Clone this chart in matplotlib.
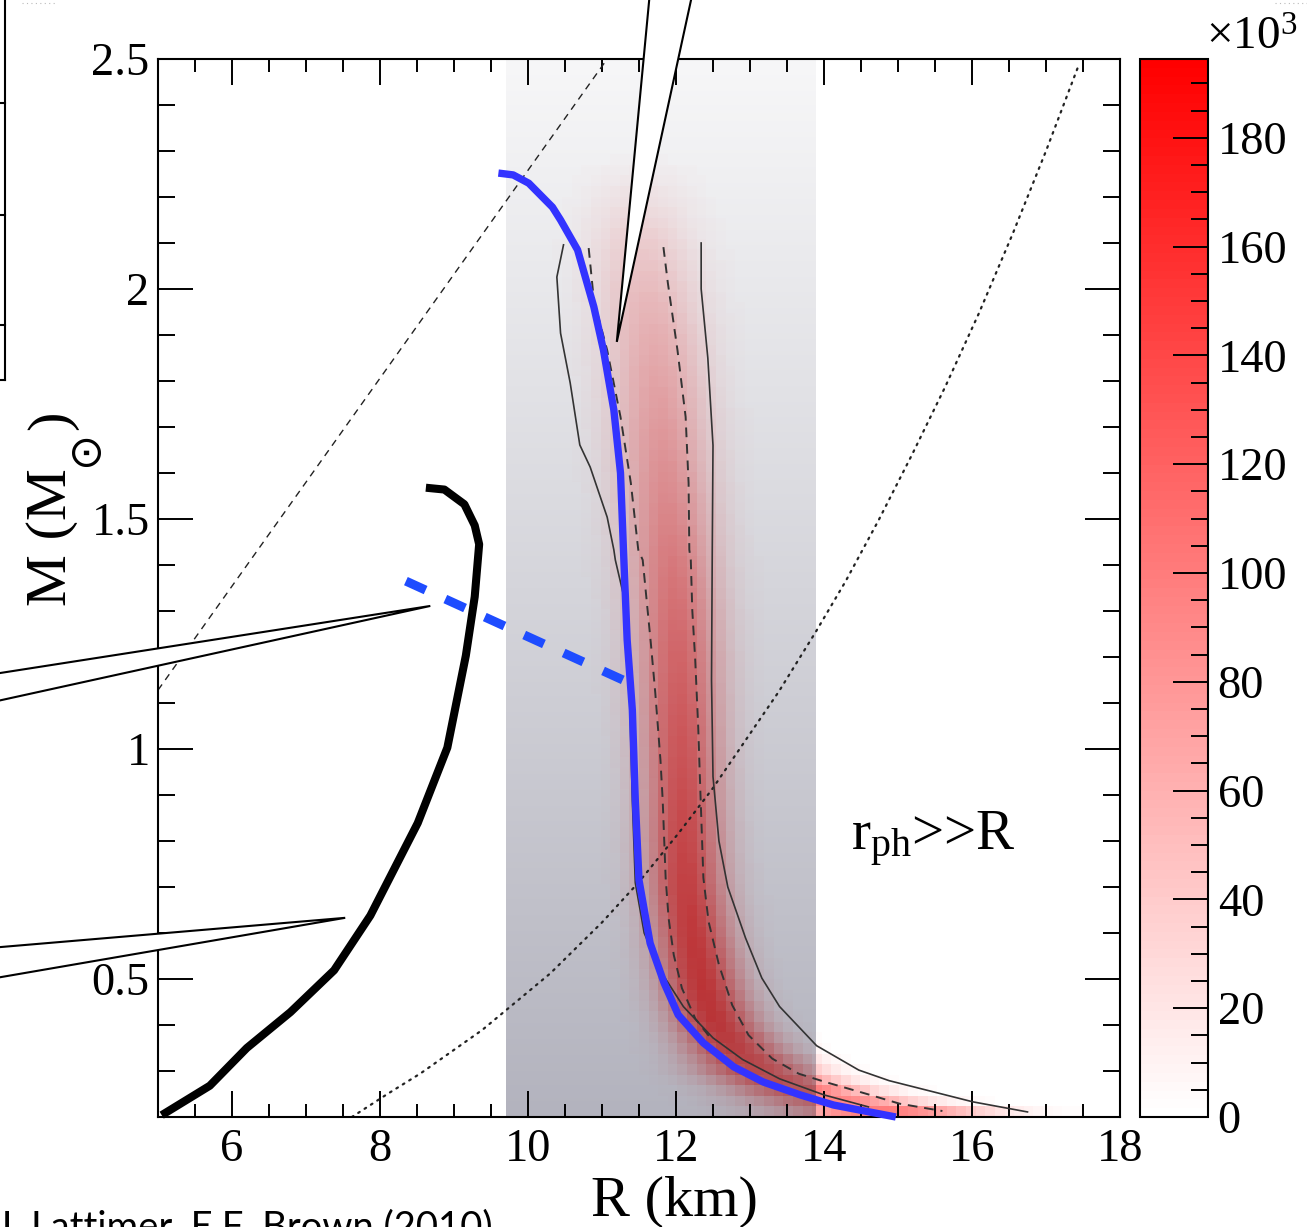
import numpy as np
import matplotlib
matplotlib.use('Agg')
import matplotlib.pyplot as plt
from matplotlib.colors import LinearSegmentedColormap, Normalize, to_rgb
from matplotlib.cm import ScalarMappable
from matplotlib.ticker import MultipleLocator, FuncFormatter
from matplotlib.patches import Polygon
from matplotlib.lines import Line2D

plt.rcParams['font.family'] = ['Liberation Serif', 'DejaVu Serif']
plt.rcParams['mathtext.fontset'] = 'custom'
plt.rcParams['mathtext.rm'] = 'Liberation Serif'
plt.rcParams['mathtext.it'] = 'Liberation Serif:italic'
plt.rcParams['mathtext.bf'] = 'Liberation Serif:bold'

# ---------------- data ----------------
# thick blue M-R curve
blue_R = [9.60, 9.80, 10.01, 10.33, 10.44, 10.67, 10.89, 11.02, 11.16, 11.25, 11.29, 11.34,
          11.41, 11.45, 11.50, 11.65, 11.84, 12.03, 12.37, 12.78, 13.18, 13.68, 14.13, 14.97]
blue_M = [2.252, 2.248, 2.230, 2.178, 2.150, 2.085, 1.961, 1.867, 1.737, 1.600, 1.433, 1.237,
          1.085, 0.889, 0.715, 0.578, 0.491, 0.422, 0.361, 0.309, 0.276, 0.248, 0.226, 0.200]
# thick black M-R curve
black_R = [5.05, 5.70, 6.20, 6.79, 7.38, 7.87, 8.51, 8.91, 9.16, 9.28, 9.34, 9.28, 9.14, 8.87, 8.62]
black_M = [0.204, 0.268, 0.350, 0.428, 0.519, 0.638, 0.839, 1.003, 1.203, 1.331, 1.445, 1.486,
           1.532, 1.564, 1.568]
# thick blue dashed segment
bdash_R = [8.35, 11.42]
bdash_M = [1.365, 1.140]
# outer (solid) contour, left and right branches
outerL_R = [10.48, 10.39, 10.44, 10.57, 10.70, 10.84, 11.07, 11.16, 11.18, 11.29, 11.36, 11.39,
            11.41, 11.45, 11.57, 11.80, 12.10, 12.50, 12.90, 13.40, 14.00, 14.60]
outerL_M = [2.096, 2.026, 1.904, 1.796, 1.661, 1.613, 1.504, 1.433, 1.411, 1.335, 1.215, 1.013,
            0.889, 0.709, 0.600, 0.515, 0.440, 0.372, 0.325, 0.283, 0.248, 0.222]
outerR_R = [12.34, 12.34, 12.43, 12.50, 12.49, 12.48, 12.50, 12.58, 12.70, 12.94, 13.16, 13.40,
            13.90, 14.47, 14.88, 15.47, 16.01, 16.75]
outerR_M = [2.100, 2.000, 1.850, 1.660, 1.430, 1.150, 0.940, 0.800, 0.700, 0.589, 0.502, 0.440,
            0.355, 0.302, 0.279, 0.255, 0.233, 0.211]
# inner (dashed) contour, left and right branches
innerL_R = [10.82, 10.89, 11.07, 11.25, 11.39, 11.49, 11.55, 11.66, 11.72, 11.79, 11.82, 11.86,
            11.90, 11.97, 12.08, 12.26, 12.45]
innerL_M = [2.089, 1.976, 1.867, 1.722, 1.578, 1.433, 1.411, 1.230, 1.122, 0.976, 0.889, 0.720,
            0.632, 0.552, 0.480, 0.414, 0.375]
innerR_R = [11.83, 11.89, 12.02, 12.13, 12.17, 12.18, 12.20, 12.22, 12.26, 12.30, 12.33, 12.37,
            12.44, 12.58, 12.76, 12.98, 13.30, 13.66, 14.02, 14.56, 15.02, 15.60]
innerR_M = [2.091, 2.013, 1.867, 1.722, 1.578, 1.433, 1.411, 1.302, 1.193, 1.048, 0.904, 0.720,
            0.625, 0.531, 0.443, 0.378, 0.327, 0.294, 0.276, 0.251, 0.229, 0.213]
# straight dashed limit line
glim_R = [5.0, 11.07]
glim_M = [1.128, 2.500]
# dotted limit curve
dot_R = [7.62, 8.10, 8.55, 9.38, 10.30, 11.00, 11.50, 12.04, 12.49, 13.39, 13.89, 14.29, 14.74,
         15.19, 15.64, 16.09, 16.55, 17.00, 17.45]
dot_M = [0.200, 0.250, 0.295, 0.389, 0.512, 0.623, 0.711, 0.818, 0.913, 1.125, 1.255, 1.364,
         1.498, 1.640, 1.788, 1.946, 2.120, 2.300, 2.490]
# probability density: per-mass-row ridge centre (km), width (km), peak (x10^3)
heat_M = [0.21, 0.23, 0.25, 0.27, 0.30, 0.35, 0.40, 0.45, 0.50, 0.60, 0.70, 0.80, 0.90, 1.00,
          1.10, 1.20, 1.30, 1.40, 1.50, 1.60, 1.70, 1.80, 1.90, 2.00, 2.10, 2.20, 2.30]
heat_centre = [14.8, 14.2, 13.8, 13.45, 13.1, 12.78, 12.55, 12.42, 12.33, 12.22, 12.14, 12.11,
               12.09, 12.07, 12.05, 12.03, 12.0, 11.95, 11.9, 11.85, 11.8, 11.75, 11.7, 11.62,
               11.55, 11.5, 11.5]
heat_width = [0.95, 0.8, 0.68, 0.6, 0.55, 0.46, 0.41, 0.39, 0.38, 0.37, 0.37, 0.37, 0.37, 0.38,
              0.39, 0.40, 0.41, 0.42, 0.43, 0.44, 0.45, 0.46, 0.47, 0.48, 0.49, 0.50, 0.50]
heat_peak = [100, 92, 100, 108, 116, 128, 137, 140, 140, 136, 131, 125, 119, 113, 107, 101, 93,
             85, 76, 68, 61, 54, 47, 38, 27, 12, 0]
# shaded radius band
band_R = [9.69, 13.89]
band_top_color = '#f7f7f8'
band_bottom_color = '#b3b3be'
# annotation wedges (tip first)
wedge1 = [(11.20, 1.885), (11.68, 2.70), (12.30, 2.70)]
wedge2 = [(8.68, 1.311), (2.62, 1.159), (2.62, 1.097)]
wedge3 = [(7.53, 0.633), (2.62, 0.566), (2.62, 0.497)]

cbar_max = 194500
xticks = [6, 8, 10, 12, 14, 16, 18]
yticks = [0.5, 1.0, 1.5, 2.0, 2.5]
cticks = [0, 20000, 40000, 60000, 80000, 100000, 120000, 140000, 160000, 180000]

# ---------------- figure ----------------
W, H = 1307, 1227
fig = plt.figure(figsize=(W / 100, H / 100), dpi=100)
ax = fig.add_axes([158 / W, 1 - 1117 / H, 962 / W, 1058 / H])
xmin, xmax, ymin, ymax = 5.0, 18.0, 0.2, 2.5

cmap = LinearSegmentedColormap.from_list('wr', ['#ffffff', '#ff0000'], N=120)
norm = Normalize(0, cbar_max)

# density grid (100 x 100 cells)
nb = 100
R_edges = np.linspace(xmin, xmax, nb + 1)
M_edges = np.linspace(ymin, ymax, nb + 1)
Rc = 0.5 * (R_edges[:-1] + R_edges[1:])
Mc = 0.5 * (M_edges[:-1] + M_edges[1:])
cen = np.interp(Mc, heat_M, heat_centre)
wid = np.interp(Mc, heat_M, heat_width)
pk = np.interp(Mc, heat_M, heat_peak, right=0) * 1000
dens = pk[:, None] * np.exp(-0.5 * ((Rc[None, :] - cen[:, None]) / wid[:, None]) ** 2)

# composite image: band gradient multiplied by density colour
sub = 8
fine = np.repeat(np.repeat(dens, sub, axis=0), sub, axis=1)
nR = fine.shape[1]
nM = fine.shape[0]
Rf = xmin + (np.arange(nR) + 0.5) * (xmax - xmin) / nR
Mf = ymin + (np.arange(nM) + 0.5) * (ymax - ymin) / nM
top = np.array(to_rgb(band_top_color))
bot = np.array(to_rgb(band_bottom_color))
t = ((ymax - Mf) / (ymax - ymin))[:, None, None]
bandcol = top[None, None, :] * (1 - t) + bot[None, None, :] * t
inband = ((Rf >= band_R[0]) & (Rf <= band_R[1]))[None, :, None]
bg = np.where(inband, bandcol, 1.0)
rgb = cmap(norm(fine))[..., :3] * bg
ax.imshow(rgb, extent=[xmin, xmax, ymin, ymax], origin='lower', aspect='auto',
          interpolation='nearest', zorder=0)

# lines
ax.plot(glim_R, glim_M, color='#222222', lw=1.0, ls=(0, (5, 4)), zorder=2)
ax.plot(dot_R, dot_M, color='#222222', lw=1.6, ls=(0, (0.8, 2.6)), dash_capstyle='round', zorder=2)
ax.plot(outerL_R, outerL_M, color='#333333', lw=1.2, zorder=2)
ax.plot(outerR_R, outerR_M, color='#333333', lw=1.2, zorder=2)
ax.plot(innerL_R, innerL_M, color='#333333', lw=1.4, ls=(0, (5, 3.5)), zorder=2)
ax.plot(innerR_R, innerR_M, color='#333333', lw=1.4, ls=(0, (5, 3.5)), zorder=2)
ax.plot(black_R, black_M, color='black', lw=5.8, solid_capstyle='butt', solid_joinstyle='round',
        zorder=3, clip_on=False)
ax.plot(blue_R, blue_M, color='#3333ff', lw=5.3, solid_capstyle='butt', solid_joinstyle='round',
        zorder=3, clip_on=False)
ax.plot(bdash_R, bdash_M, color='#1e4cff', lw=6.5, ls=(0, (2.4, 2.4)), dash_capstyle='butt', zorder=3)

for w in (wedge1, wedge2, wedge3):
    ax.add_patch(Polygon(w, closed=True, facecolor='white', edgecolor='black', lw=1.5,
                         joinstyle='miter', zorder=4, clip_on=False))

ax.text(14.36, 0.78, r'r$_{\mathrm{ph}}$>>R', fontsize=41, ha='left', va='baseline', zorder=5)

ax.set_xlim(xmin, xmax)
ax.set_ylim(ymin, ymax)
ax.set_xticks(xticks)
ax.set_yticks(yticks)
ax.xaxis.set_minor_locator(MultipleLocator(0.5))
ax.yaxis.set_minor_locator(MultipleLocator(0.1))
ax.xaxis.set_major_formatter(FuncFormatter(lambda v, p: '%g' % v))
ax.yaxis.set_major_formatter(FuncFormatter(lambda v, p: '%g' % v))
ax.tick_params(axis='x', which='major', direction='in', length=19, width=1.4, top=True,
               labelsize=33.5, pad=8)
ax.tick_params(axis='x', which='minor', direction='in', length=9.5, width=1.4, top=True)
ax.tick_params(axis='y', which='major', direction='in', length=25, width=1.4, right=True,
               labelsize=33.5, pad=6)
ax.tick_params(axis='y', which='minor', direction='in', length=12.5, width=1.4, right=True)
for s in ax.spines.values():
    s.set_linewidth(1.5)

ax.set_xlabel('R (km)', fontsize=42)
ax.xaxis.set_label_coords(0.537, -0.056)

# y label "M (M_sun)" built from pieces so the sun symbol sits low like the original
renderer = fig.canvas.get_renderer()
lab_x = 66
lab1 = fig.text(lab_x / W, 1 - 606 / H, 'M (M', rotation=90, fontsize=42, ha='left',
                va='baseline', rotation_mode='anchor')
y_end = lab1.get_window_extent(renderer).y1
lab2 = fig.text((lab_x + 19) / W, (y_end + 1) / H, '\u2299', rotation=90, fontsize=31,
                family=['DejaVu Sans'], ha='left', va='center', rotation_mode='anchor')
y_end2 = lab2.get_window_extent(renderer).y1
fig.text(lab_x / W, (y_end2 + 1) / H, ')', rotation=90, fontsize=42, ha='left',
         va='baseline', rotation_mode='anchor')

# colorbar
cax = fig.add_axes([1140 / W, 1 - 1117 / H, 68 / W, 1058 / H])
cb = fig.colorbar(ScalarMappable(norm=norm, cmap=cmap), cax=cax)
cb.set_ticks(cticks)
cb.ax.yaxis.set_major_formatter(FuncFormatter(lambda v, p: '%d' % round(v / 1000)))
cb.ax.yaxis.set_minor_locator(MultipleLocator(5000))
cb.ax.tick_params(which='major', direction='in', length=25, width=1.4, labelsize=33.5, pad=7)
cb.ax.tick_params(which='minor', direction='in', length=12.5, width=1.4)
cb.outline.set_linewidth(1.5)
fig.text(1206 / W, 1 - 50 / H, r'$\times$10$^{3}$', fontsize=34, ha='left', va='baseline')

# partial neighbouring panel and credit line
ln = dict(color='black', lw=1.5, transform=fig.transFigure)
fig.add_artist(Line2D([5 / W, 5 / W], [1, 1 - 380 / H], **ln))
fig.add_artist(Line2D([0, 5 / W], [1 - 380 / H, 1 - 380 / H], **ln))
for yy in (103, 215, 325):
    fig.add_artist(Line2D([0, 5 / W], [1 - yy / H, 1 - yy / H], **ln))
fig.add_artist(Line2D([22 / W, 55 / W], [1 - 3 / H, 1 - 3 / H], color='#bbbbbb', lw=0.8,
                      ls=(0, (1, 3)), transform=fig.transFigure))
fig.add_artist(Line2D([1275 / W, 1307 / W], [1 - 3 / H, 1 - 3 / H], color='#bbbbbb', lw=0.8,
                      ls=(0, (1, 3)), transform=fig.transFigure))
fig.text(-4 / W, 1 - 1238 / H, 'J. Lattimer, E.F. Brown (2010)', fontsize=27.5,
         family=['Lato', 'DejaVu Sans'], ha='left', va='baseline')

fig.savefig('out.png', dpi=100)
